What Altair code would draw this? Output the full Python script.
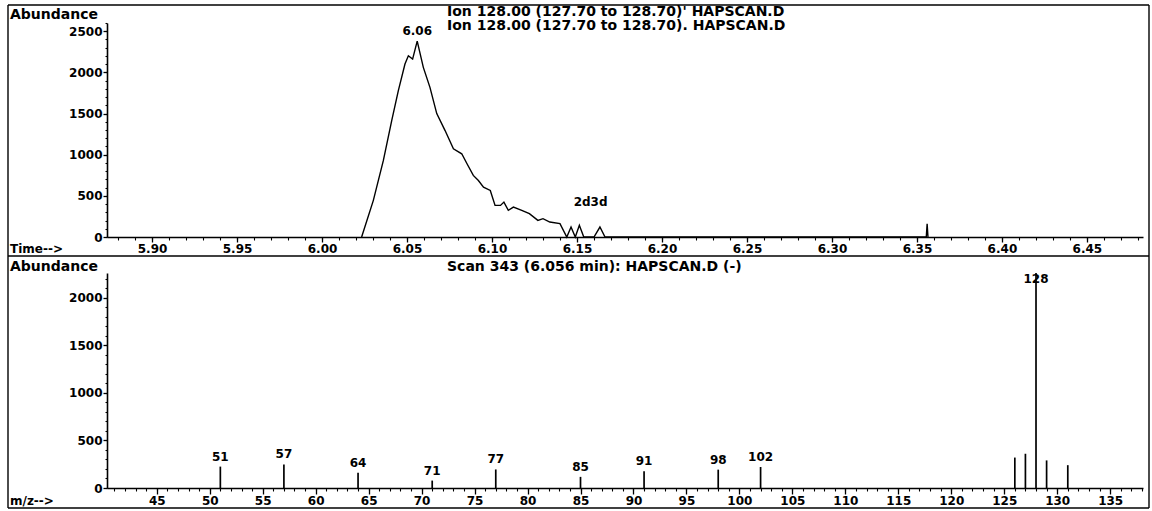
import altair as alt
import pandas as pd

# ---- Extracted ion chromatogram, m/z 128 ----
rt_min = [6.0233, 6.0302, 6.0361, 6.0410, 6.0449, 6.0488, 6.0508, 6.0533, 6.0560,
          6.0596, 6.0635, 6.0675, 6.0724, 6.0773, 6.0822, 6.0853, 6.0890, 6.0920,
          6.0950, 6.0990, 6.1018, 6.1050, 6.1070, 6.1096, 6.1126, 6.1175, 6.1220,
          6.1270, 6.1300, 6.1340, 6.1400, 6.1440, 6.1465, 6.1490, 6.1514, 6.1540,
          6.1600, 6.1635, 6.1665, 6.3555, 6.3560, 6.3565]
ion128_abund = [0, 445, 930, 1414, 1778, 2102, 2202, 2162, 2380,
                2061, 1818, 1499, 1293, 1072, 1011, 890, 748, 687,
                606, 566, 384, 384, 424, 324, 364, 324, 284,
                202, 223, 182, 162, 0, 121, 0, 142, 0,
                0, 121, 0, 0, 160, 0]

# peak annotations on the chromatogram
peak_rt = [6.056]
peak_abund = [2380]
peak_text = ["6.06"]
note_rt = [6.158]
note_abund = [424]
note_text = ["2d3d"]

# ---- Mass spectrum, scan 343 ----
mz = [51, 57, 64, 71, 77, 85, 91, 98, 102, 126, 127, 128, 129, 131]
mz_abund = [225, 248, 160, 78, 195, 117, 175, 193, 221, 320, 360, 2260, 290, 240]
mz_text = ["51", "57", "64", "71", "77", "85", "91", "98", "102", "", "", "128", "", ""]

# axis tick positions
rt_major = [5.90, 5.95, 6.00, 6.05, 6.10, 6.15, 6.20, 6.25, 6.30, 6.35, 6.40, 6.45]
rt_minor = [round(5.88 + 0.01 * i, 2) for i in range(61)]
ab_major = [0, 500, 1000, 1500, 2000, 2500]
ab_minor = list(range(0, 2601, 100))
mz_major = list(range(45, 136, 5))
mz_minor = list(range(41, 139))
sp_major = [0, 500, 1000, 1500, 2000]
sp_minor = list(range(0, 2201, 100))

chrom = pd.DataFrame({"rt": rt_min, "ab": ion128_abund})
peaks = pd.DataFrame({"rt": peak_rt, "ab": peak_abund, "label": peak_text})
notes = pd.DataFrame({"rt": note_rt, "ab": note_abund, "label": note_text})
spec = pd.DataFrame({"mz": mz, "ab": mz_abund, "label": mz_text})
one = pd.DataFrame({"k": [0]})

FONT = "DejaVu Sans"
INK = "#000000"
TICK_FS = 12
CAP_FS = 14

# panel geometry (pixel ranges for each scale)
T_SCALE = alt.Scale(domain=[5.8735, 6.483], range=[107, 1143], nice=False, zero=False)
A_SCALE = alt.Scale(domain=[0, 2600], range=[237, 23], nice=False, zero=False)
M_SCALE = alt.Scale(domain=[40.3, 138.1], range=[107, 1143], nice=False, zero=False)
S_SCALE = alt.Scale(domain=[0, 2260], range=[488, 273], nice=False, zero=False)

W, H = 1152, 511


def axis_major(orient, offset, values, fmt, tick):
    return alt.Axis(orient=orient, offset=offset, values=values, format=fmt,
                    tickSize=tick, tickWidth=1.3, tickColor=INK,
                    domainColor=INK, domainWidth=1.6, labelColor=INK,
                    labelFont=FONT, labelFontSize=TICK_FS, labelFontWeight="bold",
                    labelPadding=1, labelFlush=False, labelOverlap=False,
                    grid=False, title=None)


def axis_minor(orient, offset, values, tick):
    return alt.Axis(orient=orient, offset=offset, values=values, tickSize=tick,
                    tickWidth=1.1, tickColor=INK, labels=False, domain=False,
                    grid=False, title=None)


# top panel: chromatogram
top_line = alt.Chart(chrom).mark_line(color=INK, strokeWidth=1.4).encode(
    x=alt.X("rt:Q", scale=T_SCALE, axis=axis_major("bottom", 237 - H, rt_major, ".2f", 5)),
    y=alt.Y("ab:Q", scale=A_SCALE, axis=axis_major("left", -107, ab_major, "d", 4)),
)
top_minor = alt.Chart(chrom).mark_line(strokeOpacity=0).encode(
    x=alt.X("rt:Q", scale=T_SCALE, axis=axis_minor("bottom", 237 - H, rt_minor, 3)),
    y=alt.Y("ab:Q", scale=A_SCALE, axis=axis_minor("left", -107, ab_minor, 2)),
)
top_peak = alt.Chart(peaks).mark_text(font=FONT, fontSize=TICK_FS, fontWeight="bold",
                                      color=INK, baseline="bottom", dy=-3).encode(
    x=alt.X("rt:Q", scale=T_SCALE, axis=None),
    y=alt.Y("ab:Q", scale=A_SCALE, axis=None),
    text="label:N",
)
top_note = alt.Chart(notes).mark_text(font=FONT, fontSize=TICK_FS, fontWeight="bold",
                                      color=INK, baseline="middle").encode(
    x=alt.X("rt:Q", scale=T_SCALE, axis=None),
    y=alt.Y("ab:Q", scale=A_SCALE, axis=None),
    text="label:N",
)

# bottom panel: mass spectrum
sp_rules = alt.Chart(spec).mark_rule(color=INK, strokeWidth=1.7).encode(
    x=alt.X("mz:Q", scale=M_SCALE, axis=axis_major("bottom", 488 - H, mz_major, "d", 6)),
    y=alt.Y("ab:Q", scale=S_SCALE, axis=axis_major("left", -107, sp_major, "d", 4)),
    y2=alt.datum(0),
)
sp_minor_ax = alt.Chart(spec).mark_point(opacity=0).encode(
    x=alt.X("mz:Q", scale=M_SCALE, axis=axis_minor("bottom", 488 - H, mz_minor, 3)),
    y=alt.Y("ab:Q", scale=S_SCALE, axis=axis_minor("left", -107, sp_minor, 2)),
)
sp_labels = alt.Chart(spec).transform_filter(
    "datum.label != '' && datum.label != '128'"
).mark_text(font=FONT, fontSize=TICK_FS, fontWeight="bold", color=INK,
            baseline="bottom", dy=-3).encode(
    x=alt.X("mz:Q", scale=M_SCALE, axis=None),
    y=alt.Y("ab:Q", scale=S_SCALE, axis=None),
    text="label:N",
)
sp_base = alt.Chart(spec).transform_filter("datum.label == '128'").mark_text(
    font=FONT, fontSize=TICK_FS, fontWeight="bold", color=INK, baseline="middle", dy=6
).encode(
    x=alt.X("mz:Q", scale=M_SCALE, axis=None),
    y=alt.Y("ab:Q", scale=S_SCALE, axis=None),
    text="label:N",
)


def caption(txt, x, y, size=CAP_FS):
    return alt.Chart(one).mark_text(font=FONT, fontSize=size, fontWeight="bold",
                                    color=INK, align="left", baseline="middle").encode(
        x=alt.value(x), y=alt.value(y), text=alt.value(txt))


def rule(x1, x2, y1, y2, w=1.4):
    return alt.Chart(one).mark_rule(color=INK, strokeWidth=w).encode(
        x=alt.value(x1), x2=alt.value(x2), y=alt.value(y1), y2=alt.value(y2))


captions = [
    caption("Abundance", 10, 15),
    caption("Time-->", 10, 249, TICK_FS),
    caption("Ion 128.00 (127.70 to 128.70)' HAPSCAN.D", 447, 12),
    caption("Ion 128.00 (127.70 to 128.70). HAPSCAN.D", 447, 26),
    caption("Abundance", 10, 267),
    caption("Scan 343 (6.056 min): HAPSCAN.D (-)", 447, 267),
    caption("m/z-->", 10, 501, TICK_FS),
]

frame = [
    rule(8, 1149, 5, 5),
    rule(8, 1149, 256, 256),
    rule(8, 1149, 508, 508),
    rule(8, 8, 5, 508),
    rule(1149, 1149, 5, 508),
]

chart = alt.layer(
    top_line, top_minor, top_peak, top_note,
    sp_rules, sp_minor_ax, sp_labels, sp_base,
    *captions, *frame,
).resolve_scale(x="independent", y="independent").properties(
    width=W, height=H, autosize=alt.AutoSizeParams(type="none"), padding=0,
    background="white",
).configure_view(stroke=None)

chart.save("out.html", embed_options={"renderer": "svg", "actions": False})
